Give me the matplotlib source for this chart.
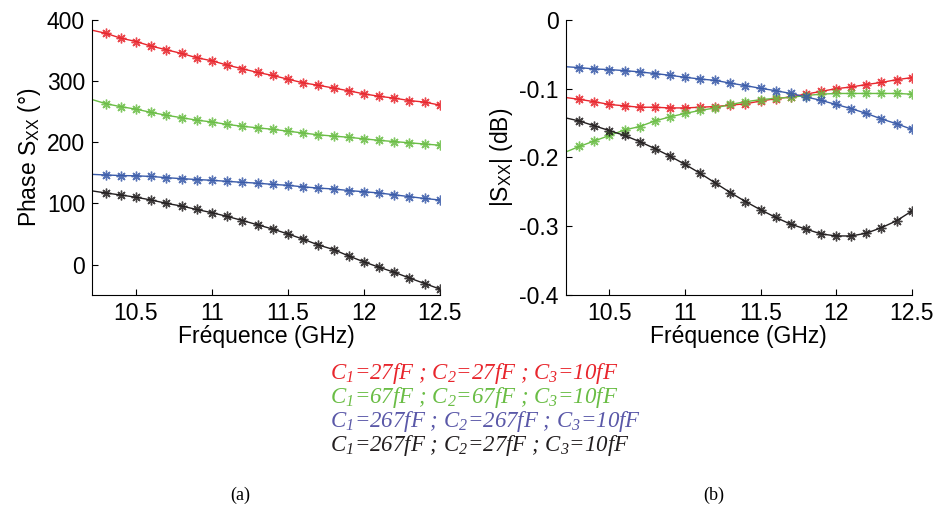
#!/usr/bin/env python3
import numpy as np
import matplotlib
matplotlib.use("Agg")
import matplotlib.pyplot as plt

plt.rcParams['font.family'] = ['Liberation Sans', 'DejaVu Sans']
plt.rcParams['mathtext.fontset'] = 'custom'
plt.rcParams['mathtext.rm'] = 'Liberation Serif:italic'
plt.rcParams['mathtext.sf'] = 'Liberation Sans'
plt.rcParams['mathtext.it'] = 'Liberation Serif:italic'

# frequency grid (GHz): line starts at 10.2, markers from 10.3
freq = [10.2, 10.3, 10.4, 10.5, 10.6, 10.7, 10.8, 10.9, 11.0, 11.1, 11.2, 11.3,
        11.4, 11.5, 11.6, 11.7, 11.8, 11.9, 12.0, 12.1, 12.2, 12.3, 12.4, 12.5]

# phase S_XX (deg)
phase_red = [383.6, 378, 370, 364.5, 357, 351, 345, 338, 333, 326, 320, 314,
             309, 303, 297, 293, 288.5, 284, 279, 275, 272, 268, 265.5, 260.6]
phase_green = [270.5, 263, 258, 254, 248.6, 244, 240, 236, 233, 229, 226, 223.5,
               221, 218, 215, 212, 210, 208, 205.5, 203, 201, 199, 197, 195]
phase_blue = [147.5, 146.4, 145.5, 145, 144, 142, 140.4, 139, 137.7, 136, 134.4, 133,
              131, 129.5, 127, 125, 123.5, 121, 119, 117, 114, 111, 108, 105.5]
phase_black = [120.8, 117, 113.7, 110, 105.5, 100, 95.6, 90, 84.7, 78.7, 72, 65,
               58, 50, 41.5, 32, 24.6, 14, 4.4, -4.4, -12.6, -22, -31, -40]

# |S_XX| (dB)
mag_red = [-0.1126, -0.1155, -0.119, -0.123, -0.125, -0.127, -0.127, -0.128, -0.128,
           -0.127, -0.126, -0.124, -0.122, -0.118, -0.1146, -0.112, -0.108, -0.104,
           -0.100, -0.0976, -0.094, -0.091, -0.087, -0.084]
mag_green = [-0.193, -0.184, -0.176, -0.168, -0.160, -0.155, -0.147, -0.141, -0.136,
             -0.1316, -0.128, -0.123, -0.119, -0.1160, -0.114, -0.1126, -0.110, -0.108,
             -0.107, -0.107, -0.107, -0.107, -0.107, -0.108]
mag_blue = [-0.068, -0.0694, -0.0714, -0.0723, -0.0738, -0.0757, -0.078, -0.0806,
            -0.0835, -0.086, -0.088, -0.092, -0.0956, -0.0995, -0.103, -0.107, -0.112,
            -0.117, -0.123, -0.129, -0.136, -0.144, -0.151, -0.159]
mag_black = [-0.142, -0.147, -0.154, -0.161, -0.168, -0.177, -0.187, -0.198, -0.210,
             -0.223, -0.237, -0.251, -0.264, -0.276, -0.287, -0.297, -0.304, -0.311,
             -0.314, -0.314, -0.310, -0.302, -0.292, -0.278]

colors = ['#e8262d', '#6abd45', '#3a5ba9', '#231f20']
legend_colors = ['#e8262d', '#6abd45', '#5a58a8', '#231f20']
legend_texts = [
    r"C$_{1}$=27fF ; C$_{2}$=27fF ; C$_{3}$=10fF",
    r"C$_{1}$=67fF ; C$_{2}$=67fF ; C$_{3}$=10fF",
    r"C$_{1}$=267fF ; C$_{2}$=267fF ; C$_{3}$=10fF",
    r"C$_{1}$=267fF ; C$_{2}$=27fF ; C$_{3}$=10fF",
]

fs = 16.5
fig = plt.figure(figsize=(9.35, 5.08), dpi=100)
ax1 = fig.add_axes([0.0984, 0.419, 0.372, 0.542])
ax2 = fig.add_axes([0.605, 0.419, 0.370, 0.542])


def draw(ax, series):
    f = np.array(freq)
    for vals, c in zip(series, colors):
        v = np.array(vals)
        ax.plot(f, v, color=c, lw=1.0, zorder=2)
        ax.plot(f[1:], v[1:], ls='none', marker=(8, 2, 0), ms=7, mew=1.0,
                color=c, alpha=0.85, zorder=3)
    ax.set_xlim(10.21, 12.5)
    ax.set_xticks([10.5, 11, 11.5, 12, 12.5])
    ax.set_xticklabels(['10.5', '11', '11.5', '12', '12.5'])
    ax.spines['top'].set_visible(False)
    ax.spines['right'].set_visible(False)
    ax.tick_params(direction='in', length=4, labelsize=fs, pad=5)
    ax.set_xlabel('Fréquence (GHz)', fontsize=fs, labelpad=0)


draw(ax1, [phase_red, phase_green, phase_blue, phase_black])
ax1.set_ylim(-50, 400)
ax1.set_yticks([0, 100, 200, 300, 400])
ax1.set_ylabel(r"Phase S$_{\mathsf{XX}}$ (°)", fontsize=fs, labelpad=3)

draw(ax2, [mag_red, mag_green, mag_blue, mag_black])
ax2.set_ylim(-0.4, 0)
ax2.set_yticks([-0.4, -0.3, -0.2, -0.1, 0])
ax2.set_yticklabels(['-0.4', '-0.3', '-0.2', '-0.1', '0'])
ax2.set_ylabel(r"|S$_{\mathsf{XX}}$| (dB)", fontsize=fs, labelpad=3)

# legend block, left aligned under the two plots
for i, (txt, c) in enumerate(zip(legend_texts, legend_colors)):
    fig.text(330 / 935, 1 - (374 + 23.7 * i) / 508, txt, color=c, ha='left', va='center',
             fontsize=16.5, family='Liberation Serif', style='italic')

fig.text(240 / 935, 1 - 495 / 508, '(a)', ha='center', va='center', fontsize=13,
         family='Liberation Serif')
fig.text(714 / 935, 1 - 495 / 508, '(b)', ha='center', va='center', fontsize=13,
         family='Liberation Serif')

fig.savefig('out.png', dpi=100)
